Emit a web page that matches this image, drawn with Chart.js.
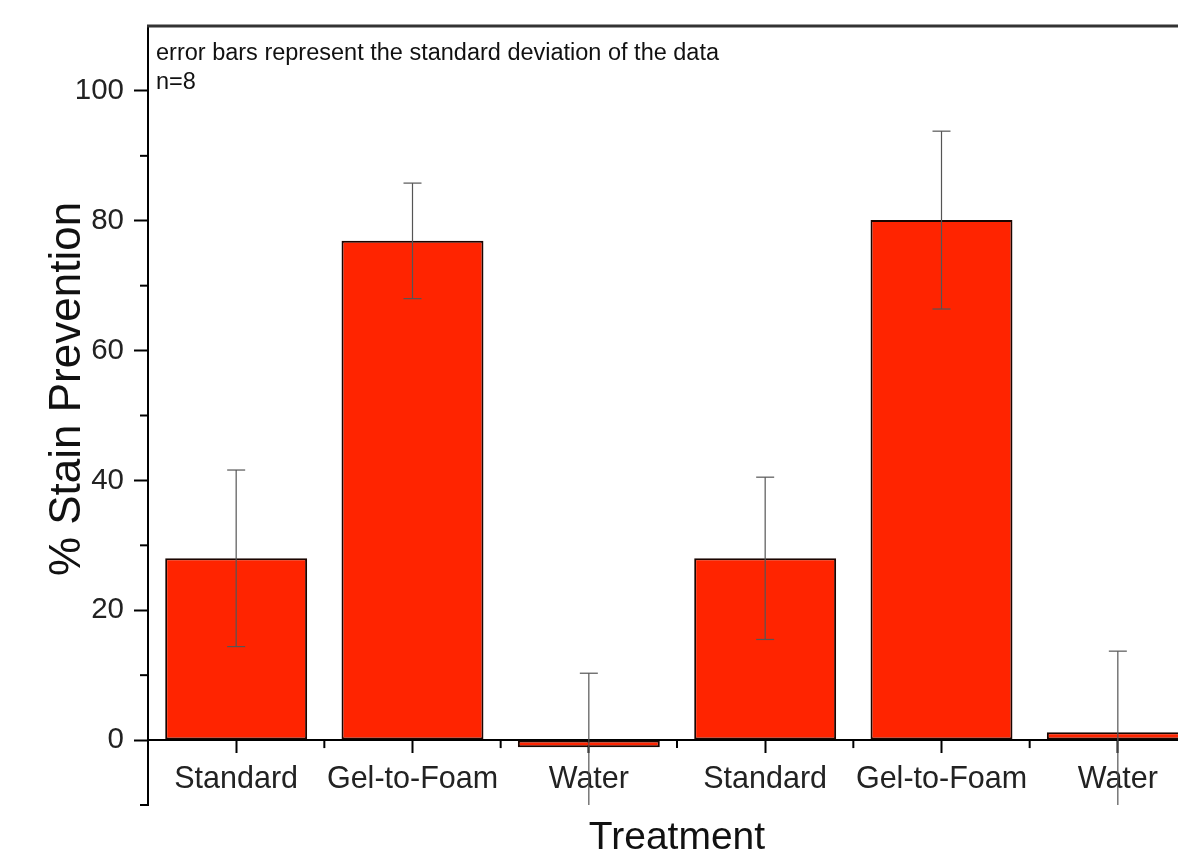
<!DOCTYPE html>
<html><head><meta charset="utf-8">
<script src="https://cdn.jsdelivr.net/npm/chart.js@4.4.1/dist/chart.umd.min.js"></script>
<style>
html,body{margin:0;padding:0;background:#fff;overflow:hidden;width:1178px;height:852px}
#wrap{position:absolute;left:0;top:0;width:1230px;height:852px}
</style>
</head><body><div id="wrap"><canvas id="c"></canvas></div>
<script>
// ---- data ----
const categories = ["Standard", "Gel-to-Foam", "Water", "Standard", "Gel-to-Foam", "Water"];
const meanValues = [28.0, 76.9, -1.1, 28.0, 80.1, 1.2];
const sdValues = [13.6, 8.9, 11.4, 12.5, 13.7, 12.5];
const yMajorTicks = [0, 20, 40, 60, 80, 100];
const yMinorTicks = [-10, 10, 30, 50, 70, 90];
const yRange = [-10, 110];
const noteLines = ["error bars represent the standard deviation of the data", "n=8"];
const yTitleText = "% Stain Prevention";
const xTitleText = "Treatment";

const FONT = "'Liberation Sans', Arial, sans-serif";

const extras = {
  id: 'extras',
  afterDatasetsDraw(chart) {
    const ctx = chart.ctx, ys = chart.scales.y;
    const meta = chart.getDatasetMeta(0);
    ctx.save();
    ctx.strokeStyle = '#555';
    ctx.lineWidth = 1.2;
    meanValues.forEach((m, i) => {
      const x = meta.data[i].x;
      const hi = m + sdValues[i], lo = m - sdValues[i];
      const yHi = ys.getPixelForValue(Math.min(hi, yRange[1]));
      const yLo = ys.getPixelForValue(Math.max(lo, yRange[0]));
      ctx.beginPath(); ctx.moveTo(x, yHi); ctx.lineTo(x, yLo); ctx.stroke();
      const cw = 9;
      if (hi <= yRange[1]) { ctx.beginPath(); ctx.moveTo(x - cw, yHi); ctx.lineTo(x + cw, yHi); ctx.stroke(); }
      if (lo >= yRange[0]) { ctx.beginPath(); ctx.moveTo(x - cw, yLo); ctx.lineTo(x + cw, yLo); ctx.stroke(); }
    });
    ctx.restore();
  },
  afterDraw(chart) {
    const ctx = chart.ctx, xs = chart.scales.x, ys = chart.scales.y, a = chart.chartArea;
    ctx.save();
    // top frame line
    ctx.strokeStyle = '#333'; ctx.lineWidth = 3;
    const yt = ys.getPixelForValue(yRange[1]);
    ctx.beginPath(); ctx.moveTo(a.left - 1, yt); ctx.lineTo(a.right, yt); ctx.stroke();
    // y minor ticks
    ctx.strokeStyle = '#000'; ctx.lineWidth = 2;
    yMinorTicks.forEach(v => {
      const y = ys.getPixelForValue(v);
      ctx.beginPath(); ctx.moveTo(a.left - 8, y); ctx.lineTo(a.left, y); ctx.stroke();
    });
    // x minor ticks at category boundaries
    const y0 = ys.getPixelForValue(0);
    for (let i = 1; i <= categories.length; i++) {
      const x = xs.getPixelForValue(i - 0.5);
      ctx.beginPath(); ctx.moveTo(x, y0); ctx.lineTo(x, y0 + 8); ctx.stroke();
    }
    // note text
    ctx.fillStyle = '#111';
    ctx.font = '23.5px ' + FONT;
    ctx.textAlign = 'left'; ctx.textBaseline = 'alphabetic';
    ctx.fillText(noteLines[0], 156, 60);
    ctx.fillText(noteLines[1], 156, 89);
    // y title
    ctx.translate(68, 389);
    ctx.rotate(-Math.PI / 2);
    ctx.font = '44px ' + FONT;
    ctx.textAlign = 'center'; ctx.textBaseline = 'middle';
    ctx.fillStyle = '#111';
    ctx.fillText(yTitleText, 0, 0);
    ctx.restore();
  }
};

new Chart(document.getElementById('c'), {
  type: 'bar',
  data: {
    labels: categories,
    datasets: [{
      data: meanValues,
      backgroundColor: '#ff2400',
      borderColor: '#1a0500',
      borderWidth: 2,
      borderSkipped: false,
      categoryPercentage: 1.0,
      barPercentage: 0.805
    }]
  },
  options: {
    responsive: true,
    maintainAspectRatio: false,
    animation: false,
    events: [],
    layout: { padding: { left: 0, top: 26, right: 24, bottom: 47 } },
    plugins: { legend: { display: false }, tooltip: { enabled: false } },
    scales: {
      x: {
        position: { y: 0 },
        offset: true,
        grid: { display: true, drawOnChartArea: false, drawTicks: true, tickLength: 12, tickColor: '#000', tickWidth: 2, offset: false },
        border: { display: true, color: '#000', width: 2 },
        ticks: { color: '#222', padding: 9, font: { family: FONT, size: 30.5 }, maxRotation: 0, autoSkip: false },
        title: { display: true, text: xTitleText, color: '#111', font: { family: FONT, size: 39 }, padding: { top: 8, bottom: 0 } },
        afterFit(s) { s.paddingLeft = 0; s.paddingRight = 0; }
      },
      y: {
        min: yRange[0], max: yRange[1],
        afterBuildTicks(s) { s.ticks = yMajorTicks.map(v => ({ value: v })); },
        grid: { display: true, drawOnChartArea: false, drawTicks: true, tickLength: 14, tickColor: '#000', tickWidth: 2 },
        border: { display: true, color: '#000', width: 2 },
        ticks: { color: '#222', padding: 10, font: { family: FONT, size: 29.5 } },
        afterFit(s) { s.width = 148; s.paddingTop = 0; s.paddingBottom = 0; }
      }
    }
  },
  plugins: [extras]
});
</script>
</body></html>
